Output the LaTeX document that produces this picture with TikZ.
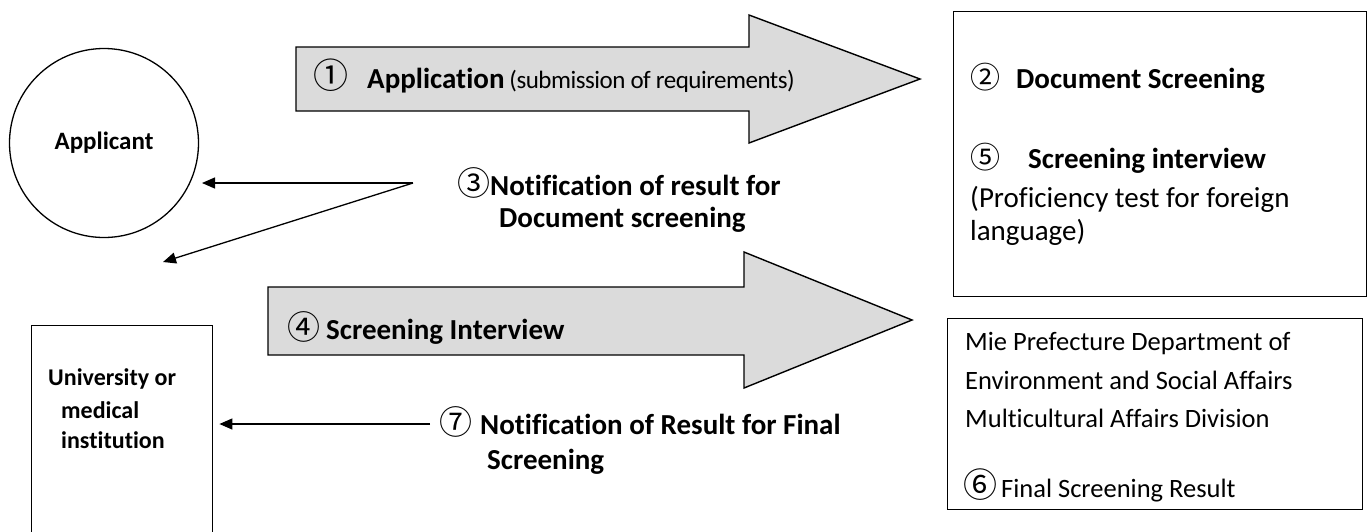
\documentclass[tikz,border=0pt]{standalone}
\usepackage{fontspec}
\setmainfont{Carlito}[Ligatures={NoCommon}]
\newfontfamily\cjk{Noto Sans CJK JP}
\newfontfamily\condf{Carlito}[LetterSpace=-2,Ligatures={NoCommon}]
\usetikzlibrary{arrows.meta}
\tikzset{
  lbl/.style={inner sep=0pt, anchor=base west},
  blockarrow/.style={draw=black, line width=1.4pt, fill=black!14, line join=miter},
  boxframe/.style={draw=black, line width=1.4pt},
  conn/.style={draw=black, line width=1.3pt, -{Triangle[length=13pt,width=11pt]}},
}
\newcommand\bigb{\fontsize{29}{32}\selectfont\bfseries}
\newcommand\regt{\fontsize{29}{32}\selectfont}
\newcommand\miet{\fontsize{26.5}{30}\selectfont}
\begin{document}
\begin{tikzpicture}[x=1pt,y=-1pt]
\useasboundingbox (0,0) rectangle (1370,531);

% block arrows
\path[blockarrow] (296,47) -- (749,47) -- (749,15) -- (920,79) -- (749,143) -- (749,111) -- (296,111) -- cycle;
\path[blockarrow] (268,287) -- (744,287) -- (744,252) -- (912,320) -- (744,388) -- (744,355) -- (268,355) -- cycle;

% entities
\node[circle, draw, line width=1.3pt, minimum size=189pt, inner sep=0pt,
      font=\fontsize{25}{28}\selectfont\bfseries] (app) at (104,143) {Applicant};
\node[boxframe, rectangle, minimum width=413pt, minimum height=285pt, anchor=north west] (doc) at (953,11) {};
\node[boxframe, rectangle, minimum width=415pt, minimum height=191pt, anchor=north west] (mie) at (947,318) {};
\node[boxframe, rectangle, minimum width=181pt, minimum height=225pt, anchor=north west] (univ) at (31,325) {};

% arrow labels
\node[lbl] (l1) at (313,88) {{\cjk\fontsize{35}{32}\selectfont ①}\hspace{19pt}{\bigb Application}\hspace{5pt}{\condf\fontsize{25}{26}\selectfont (submission of requirements)}};
\node[lbl] (l4) at (287,339) {{\cjk\fontsize{33}{32}\selectfont ④}\hspace{6pt}{\bigb Screening Interview}};
\node[lbl] (l3a) at (457,195) {{\cjk\fontsize{33}{32}\selectfont ③}{\bigb Notification of result for}};
\node[lbl] (l3b) at (499,227) {\bigb Document screening};
\node[lbl] (l7a) at (439,434) {{\cjk\fontsize{33}{32}\selectfont ⑦}\hspace{8pt}{\bigb Notification of Result for Final}};
\node[lbl] (l7b) at (487,469) {\bigb Screening};

% right box texts
\node[lbl] (t2) at (970,88) {{\cjk\fontsize{30}{32}\selectfont ②}\hspace{16pt}{\bigb Document Screening}};
\node[lbl] (t5) at (970,168) {{\cjk\fontsize{30}{32}\selectfont ⑤}\hspace{28pt}{\bigb Screening interview}};
\node[lbl] (t5b) at (970,207) {\regt (Proficiency test for foreign};
\node[lbl] (t5c) at (970,240) {\regt language)};
\node[lbl] (m1) at (965,350) {\miet Mie Prefecture Department of};
\node[lbl] (m2) at (965,389) {\miet Environment and Social Affairs};
\node[lbl] (m3) at (965,427) {\miet Multicultural Affairs Division};
\node[lbl] (m4) at (963,497) {{\cjk\fontsize{34}{32}\selectfont ⑥}\hspace{4pt}{\miet Final Screening Result}};

% university text
\node[lbl, font=\fontsize{24}{28}\selectfont\bfseries] (u1) at (48,385) {University or};
\node[lbl, font=\fontsize{24}{28}\selectfont\bfseries] (u2) at (61,418) {medical};
\node[lbl, font=\fontsize{24}{28}\selectfont\bfseries] (u3) at (61,448) {institution};

% connectors
\coordinate (n3) at (413,183);
\coordinate (t1) at (202,183);
\coordinate (t2p) at (163,262);
\coordinate (s7) at (430,424);
\draw[conn] (n3) -- (t1);
\draw[conn] (n3) -- (t2p);
\draw[conn, shorten >=6pt] (s7) -- (univ.east |- s7);
\end{tikzpicture}
\end{document}
